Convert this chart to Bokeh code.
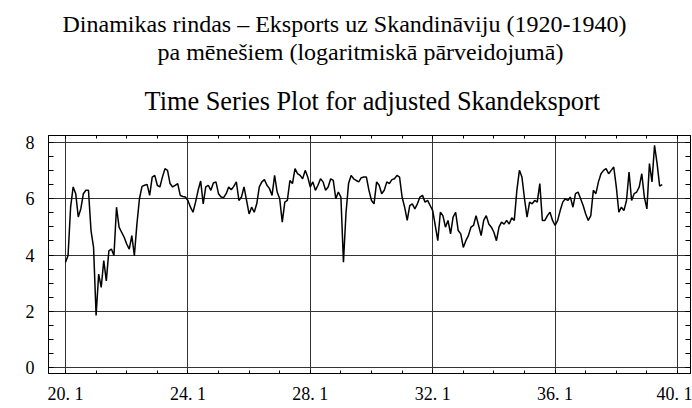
from bokeh.plotting import figure
from bokeh.models import LinearAxis, FixedTicker, Title, Range1d
from bokeh.embed import file_html
from bokeh.resources import INLINE

# ---- texts ----
title_line1 = "Dinamikas rindas – Eksports uz Skandināviju (1920-1940)"
title_line2 = "pa mēnešiem (logaritmiskā pārveidojumā)"
chart_title = "Time Series Plot for adjusted Skandeksport"

# ---- axes ----
start_year = 20          # first observation: 1920, month 1
x_tick_years = [20, 24, 28, 32, 36, 40]
x_tick_labels = ["20. 1", "24. 1", "28. 1", "32. 1", "36. 1", "40. 1"]
x_minor_years = list(range(20, 41))
y_ticks = [0, 2, 4, 6, 8]
y_minor = [v * 0.5 for v in range(0, 17)]

# ---- monthly values (log export to Scandinavia), Jan 1920 ... Jul 1939 ----
values = [
    3.74, 3.98, 5.70, 6.42, 6.18, 5.35, 5.64, 6.18, 6.30, 6.30, 4.87, 4.27,   # 1920
    1.85, 3.32, 2.85, 3.80, 3.08, 4.15, 4.21, 3.98, 5.70, 4.99, 4.81, 4.63,   # 1921
    4.39, 4.21, 4.69, 3.98, 5.10, 6.00, 6.44, 6.48, 6.51, 6.12, 6.77, 6.83,   # 1922
    6.48, 6.42, 6.77, 7.07, 7.01, 6.54, 6.42, 6.48, 6.54, 6.12, 6.08, 6.06,   # 1923
    5.94, 5.70, 5.52, 5.88, 6.30, 6.63, 5.82, 6.42, 6.48, 6.30, 6.56, 6.60,   # 1924
    6.18, 6.06, 6.04, 6.18, 6.42, 6.32, 6.44, 6.60, 5.94, 6.06, 6.42, 5.94,   # 1925
    5.46, 5.70, 5.52, 5.82, 6.42, 6.60, 6.68, 6.48, 6.36, 6.12, 6.83, 6.24,   # 1926
    6.00, 5.17, 5.88, 5.94, 6.65, 6.54, 7.07, 6.89, 6.83, 6.71, 7.01, 6.77,   # 1927
    6.42, 6.60, 6.30, 6.48, 6.71, 6.60, 6.30, 6.42, 6.71, 6.65, 6.00, 6.24,   # 1928
    6.06, 3.74, 5.50, 6.54, 6.83, 6.71, 6.65, 6.60, 6.75, 6.77, 6.77, 6.30,   # 1929
    5.94, 5.82, 6.60, 6.48, 6.18, 6.30, 6.60, 6.54, 6.68, 6.71, 6.83, 6.77,   # 1930
    6.06, 5.70, 5.23, 5.76, 5.82, 5.64, 5.82, 6.06, 6.12, 5.88, 5.94, 5.76,   # 1931
    5.58, 5.05, 4.51, 5.52, 5.40, 4.99, 5.23, 4.75, 5.35, 5.52, 4.87, 4.75,   # 1932
    4.27, 4.51, 4.69, 4.99, 5.05, 5.40, 5.05, 4.69, 5.23, 5.40, 5.10, 4.99,   # 1933
    4.81, 4.51, 4.99, 5.17, 5.10, 5.23, 5.10, 5.32, 5.23, 6.30, 7.01, 6.77,   # 1934
    6.00, 5.35, 5.88, 5.82, 5.94, 5.88, 6.54, 5.23, 5.23, 5.40, 5.52, 5.23,   # 1935
    5.05, 5.23, 5.58, 5.88, 6.00, 5.94, 6.06, 5.70, 6.18, 6.24, 6.00, 5.76,   # 1936
    5.46, 5.23, 5.40, 6.30, 6.18, 6.60, 6.89, 7.01, 7.07, 6.89, 7.01, 7.13,   # 1937
    6.42, 5.52, 5.70, 5.58, 5.94, 6.95, 5.94, 6.18, 6.24, 6.42, 6.89, 6.06,   # 1938
    5.64, 7.25, 6.60, 7.90, 7.25, 6.45, 6.50,                                 # 1939
]

x = [start_year + i / 12 for i in range(len(values))]

FONT = "Liberation Serif"

p = figure(width=692, height=406, output_backend="svg", toolbar_location=None,
           x_range=Range1d(19.444, 40.425), y_range=Range1d(-0.213, 8.249),
           min_border_left=48, min_border_right=2, min_border_top=135,
           min_border_bottom=33)
p.background_fill_color = "white"
p.border_fill_color = "white"
p.outline_line_color = "black"
p.outline_line_width = 1

x_ticker = FixedTicker(ticks=x_tick_years, minor_ticks=x_minor_years)
y_ticker = FixedTicker(ticks=y_ticks, minor_ticks=y_minor)

# bottom axis
xa = p.xaxis[0]
xa.ticker = x_ticker
xa.major_label_overrides = dict(zip(x_tick_years, x_tick_labels))
xa.major_label_text_font = FONT
xa.major_label_text_font_size = "18px"
xa.major_label_text_color = "black"
xa.major_label_standoff = 10
xa.major_tick_in = 3
xa.major_tick_out = 0
xa.minor_tick_in = 3
xa.minor_tick_out = 0
xa.axis_line_color = "black"
xa.major_tick_line_color = "black"
xa.minor_tick_line_color = "black"

# left axis
ya = p.yaxis[0]
ya.ticker = y_ticker
ya.major_label_text_font = FONT
ya.major_label_text_font_size = "18px"
ya.major_label_text_color = "black"
ya.major_label_standoff = 14
ya.major_tick_in = 5
ya.major_tick_out = 0
ya.minor_tick_in = 5
ya.minor_tick_out = 0
ya.axis_line_color = "black"
ya.major_tick_line_color = "black"
ya.minor_tick_line_color = "black"

# right axis (ticks only, labels not drawn)
ra = LinearAxis(ticker=y_ticker, major_label_text_font_size="1px",
                major_label_text_color=None,
                major_label_standoff=0, major_tick_in=5, major_tick_out=0,
                minor_tick_in=5, minor_tick_out=0, axis_line_color="black",
                major_tick_line_color="black", minor_tick_line_color="black")
p.add_layout(ra, "right")

# top axis (ticks only, labels not drawn)
ta = LinearAxis(ticker=x_ticker, major_label_text_font_size="1px",
                major_label_text_color=None,
                major_label_standoff=0, major_tick_in=3, major_tick_out=0,
                minor_tick_in=3, minor_tick_out=0, axis_line_color="black",
                major_tick_line_color="black", minor_tick_line_color="black")
p.add_layout(ta, "above")

# grids
p.xgrid.ticker = FixedTicker(ticks=x_tick_years)
p.ygrid.ticker = FixedTicker(ticks=y_ticks)
for g in (p.xgrid, p.ygrid):
    g.grid_line_color = "#333333"
    g.grid_line_width = 1
    g.grid_line_alpha = 1.0

# series
p.line(x, values, line_color="black", line_width=1.5)

# titles, stacked outward from the frame
for txt, off, size, stand in [(chart_title, 96, "26.3px", 40),
                              (title_line2, 109, "24px", 0),
                              (title_line1, 14, "24px", 0)]:
    p.add_layout(Title(text=txt, align="left", offset=off, standoff=stand,
                       text_font=FONT, text_font_size=size,
                       text_font_style="normal", text_color="black"), "above")

open("out.html", "w").write(file_html(p, INLINE))
